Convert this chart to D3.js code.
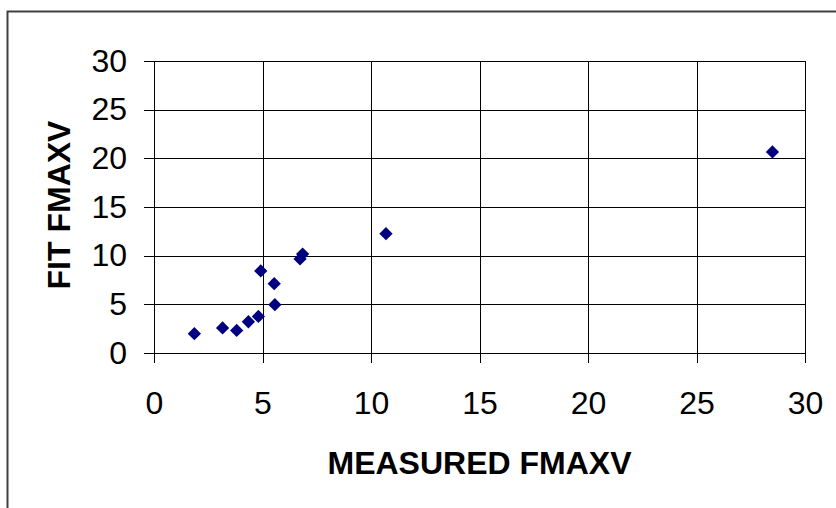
<!DOCTYPE html>
<html>
<head>
<meta charset="utf-8">
<script src="https://cdn.jsdelivr.net/npm/d3@7"></script>
<style>
  body { margin: 0; background: #fff; }
  text { font-family: "Liberation Sans", Arial, sans-serif; fill: #000; }
</style>
</head>
<body>
<div id="cont"></div>
<script>
// data
var measured = [1.86, 3.16, 3.81, 4.35, 4.81, 4.92, 5.54, 5.57, 6.73, 6.85, 10.69, 28.5];
var fitted   = [1.98, 2.57, 2.32, 3.21, 3.76, 8.43, 7.12, 4.96, 9.66, 10.17, 12.26, 20.66];
var xTicks = [0, 5, 10, 15, 20, 25, 30];
var yTicks = [0, 5, 10, 15, 20, 25, 30];
var xTitle = "MEASURED FMAXV";
var yTitle = "FIT FMAXV";

var W = 836, H = 508;
var margin = {top: 61, right: 31, bottom: 155, left: 154},
    width = W - margin.left - margin.right,
    height = H - margin.top - margin.bottom;

var x = d3.scaleLinear().domain([0, 30]).range([0, width]);
var y = d3.scaleLinear().domain([0, 30]).range([height, 0]);

var root = d3.select("#cont").append("svg")
    .attr("width", W)
    .attr("height", H);

// outer chart border (only left/top visible in the crop)
root.append("rect")
    .attr("x", 7.5).attr("y", 11.5)
    .attr("width", W + 20).attr("height", H + 20)
    .style("fill", "#fff")
    .style("stroke", "#404040")
    .style("stroke-width", 2);

var svg = root.append("g")
    .attr("transform", "translate(" + margin.left + "," + margin.top + ")");

// grid lines
svg.append("g").selectAll("line")
    .data(yTicks.filter(function(d) { return d > 0; }))
  .enter().append("line")
    .attr("x1", 0).attr("x2", width)
    .attr("y1", function(d) { return Math.round(y(d)) + 0.5; })
    .attr("y2", function(d) { return Math.round(y(d)) + 0.5; })
    .style("stroke", "#000").style("stroke-width", 1);

svg.append("g").selectAll("line")
    .data(xTicks.filter(function(d) { return d > 0; }))
  .enter().append("line")
    .attr("y1", 0).attr("y2", height)
    .attr("x1", function(d) { return Math.round(x(d)) + 0.5; })
    .attr("x2", function(d) { return Math.round(x(d)) + 0.5; })
    .style("stroke", "#000").style("stroke-width", 1);

// axes
var xAxis = svg.append("g")
    .attr("transform", "translate(0," + height + ")")
    .call(d3.axisBottom(x).tickValues(xTicks).tickSizeInner(10).tickSizeOuter(0).tickPadding(28));
var yAxis = svg.append("g")
    .call(d3.axisLeft(y).tickValues(yTicks).tickSizeInner(10).tickSizeOuter(0).tickPadding(17));

[xAxis, yAxis].forEach(function(a) {
  a.selectAll("path, line").style("stroke", "#000").attr("shape-rendering", "crispEdges");
  a.selectAll("text")
      .style("font-family", "'Liberation Sans', Arial, sans-serif")
      .style("font-size", "32px")
      .style("fill", "#000");
});

// axis titles
svg.append("text")
    .attr("x", width / 2)
    .attr("y", 474 - margin.top)
    .attr("text-anchor", "middle")
    .style("font-size", "32px")
    .style("font-weight", "bold")
    .text(xTitle);

svg.append("text")
    .attr("transform", "translate(" + (70 - margin.left) + "," + (205 - margin.top) + ") rotate(-90)")
    .attr("text-anchor", "middle")
    .style("font-size", "32px")
    .style("font-weight", "bold")
    .text(yTitle);

// the diamonds
var diamond = d3.symbol().type(d3.symbolSquare).size(88);
svg.selectAll(".dot")
    .data(measured)
  .enter().append("path")
    .attr("class", "dot")
    .attr("d", diamond)
    .attr("transform", function(d, i) {
      return "translate(" + x(d) + "," + y(fitted[i]) + ") rotate(45)";
    })
    .style("fill", "#000080");
</script>
</body>
</html>
